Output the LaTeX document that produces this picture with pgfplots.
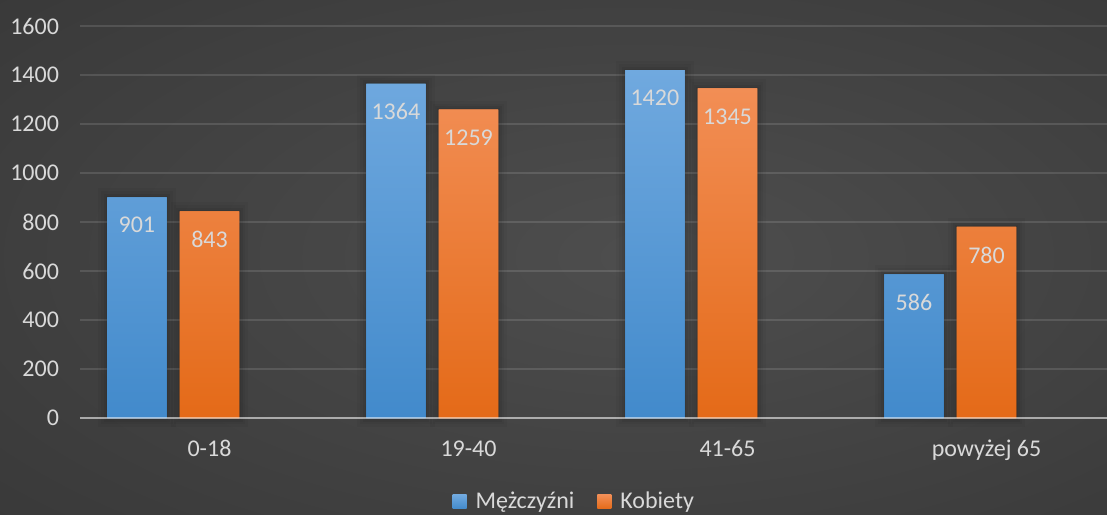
\documentclass[border=0pt]{standalone}
\usepackage{fontspec}
\setmainfont{Carlito}
\usepackage{pgfplots}
\pgfplotsset{compat=1.18}
\definecolor{txt}{HTML}{D9D9D9}
\definecolor{bluetop}{HTML}{70A9DF}
\definecolor{bluebot}{HTML}{428ACB}
\definecolor{ortop}{HTML}{F28E55}
\definecolor{orbot}{HTML}{E46A18}
\definecolor{bgin}{HTML}{4E4E4E}
\definecolor{bgout}{HTML}{262626}
\pgfdeclareradialshading{bgshade}{\pgfpoint{5bp}{0bp}}{color(0bp)=(bgin); color(72bp)=(bgout)}
\tikzset{barshadow/.style={
  preaction={draw=black, draw opacity=0.035, line width=9pt},
  preaction={draw=black, draw opacity=0.045, line width=6pt},
  preaction={draw=black, draw opacity=0.05, line width=3.5pt},
  preaction={draw=black, draw opacity=0.05, line width=1.5pt}}}
\begin{document}
\begin{tikzpicture}[x=1pt,y=1pt]
\shade[shading=bgshade] (0,0) rectangle (553.5,257);
\path[use as bounding box] (0,0) rectangle (553.5,257);
\begin{axis}[
  at={(40pt,48pt)}, anchor=south west,
  scale only axis, width=518pt, height=196pt,
  xmin=-0.5, xmax=3.5, ymin=0, ymax=1600,
  clip=false,
  ytick={0,200,...,1600}, xtick={0,1,2,3},
  xticklabels={0-18,19-40,41-65,powyżej 65},
  ymajorgrids, grid style={white, opacity=0.12, line width=0.75pt},
  axis line style={draw=none},
  major tick length=0pt,
  /pgf/number format/assume math mode=true,
  /pgf/number format/1000 sep={},
  tick label style={font=\fontsize{12}{14}\selectfont, text=txt},
  yticklabel style={xshift=-7pt},
  xticklabel style={text height=9pt, text depth=2pt, yshift=-6.5pt},
  nodes near coords,
  every node near coord/.append style={font=\fontsize{12}{14}\selectfont, text=txt, anchor=center, yshift=-14pt},
  legend style={at={(0.478,-0.214)}, anchor=center, draw=none, fill=none,
    legend columns=2, text=txt, font=\fontsize{12}{14}\selectfont,
    /tikz/every odd column/.append style={column sep=2.5pt},
    /tikz/every even column/.append style={column sep=9.5pt}},
  legend image code/.code={\path[#1] (0pt,-3.5pt) rectangle (7pt,3.5pt);},
]
\addlegendimage{draw=none, top color=bluetop, bottom color=bluebot}
\addlegendimage{draw=none, top color=ortop, bottom color=orbot}
\addplot[ybar, bar width=0.228, bar shift=-0.28, draw=none, top color=bluetop, bottom color=bluebot,
  barshadow, forget plot, every node near coord/.append style={xshift=-36.3pt}]
  coordinates {(0,901) (1,1364) (2,1420) (3,586)};
\addplot[ybar, bar width=0.228, bar shift=0, draw=none, top color=ortop, bottom color=orbot,
  barshadow, forget plot]
  coordinates {(0,843) (1,1259) (2,1345) (3,780)};
\legend{Mężczyźni, Kobiety}
\draw[white, opacity=0.5, line width=1pt] (axis cs:-0.5,0) -- (axis cs:3.5,0);
\end{axis}
\end{tikzpicture}
\end{document}
